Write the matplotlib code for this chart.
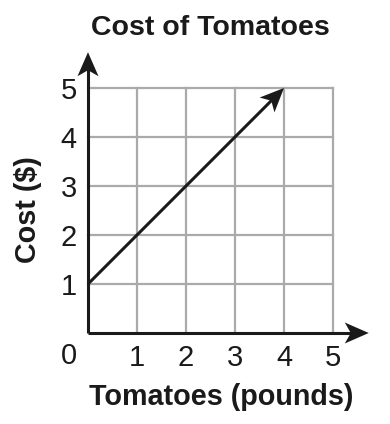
import matplotlib.pyplot as plt
from matplotlib.path import Path
from matplotlib.patches import PathPatch

plt.rcParams['font.family'] = ['Liberation Sans', 'DejaVu Sans']

title = "Cost of Tomatoes"
x_label = "Tomatoes (pounds)"
y_label = "Cost ($)"
x_ticks = [1, 2, 3, 4, 5]
y_ticks = [1, 2, 3, 4, 5]
line_x = [0, 4]
line_y = [1, 5]
axis_max = 5
arrow_reach = 5.73

fig = plt.figure(figsize=(3.9, 4.24), dpi=100)
ax = fig.add_axes([88 / 390, 91 / 424, 245 / 390, 245 / 424])
ax.set_xlim(0, axis_max)
ax.set_ylim(0, axis_max)

# grid
for v in x_ticks:
    ax.plot([v, v], [0, axis_max], color="#aaaaaa", lw=1.6, zorder=1, clip_on=False)
for v in y_ticks:
    ax.plot([0, axis_max], [v, v], color="#aaaaaa", lw=1.6, zorder=1, clip_on=False)

for s in ax.spines.values():
    s.set_visible(False)


def arrow(x0, y0, x1, y1):
    # shaft plus a stealth-shaped head, sized in pixels
    t = ax.transData
    (px0, py0), (px1, py1) = t.transform([(x0, y0), (x1, y1)])
    dx, dy = px1 - px0, py1 - py0
    n = (dx ** 2 + dy ** 2) ** 0.5
    ux, uy = dx / n, dy / n
    L, W, notch = 24, 10.5, 6
    mid = t.inverted().transform((px1 - ux * (L - notch - 1), py1 - uy * (L - notch - 1)))
    ax.plot([x0, mid[0]], [y0, mid[1]], color="#1a1a1a", lw=2.2, zorder=3,
            clip_on=False, solid_capstyle="butt")
    back = (px1 - ux * L, py1 - uy * L)
    pts = [(px1, py1),
           (back[0] - uy * W, back[1] + ux * W),
           (px1 - ux * (L - notch), py1 - uy * (L - notch)),
           (back[0] + uy * W, back[1] - ux * W),
           (px1, py1)]
    pts = t.inverted().transform(pts)
    codes = [Path.MOVETO, Path.LINETO, Path.LINETO, Path.LINETO, Path.CLOSEPOLY]
    ax.add_patch(PathPatch(Path(pts, codes), facecolor="#1a1a1a",
                           edgecolor="none", zorder=4, clip_on=False))


arrow(0, 0, 0, arrow_reach)
arrow(0, 0, arrow_reach, 0)
arrow(line_x[0], line_y[0], line_x[1], line_y[1])

ax.set_xticks(x_ticks)
ax.set_yticks(y_ticks)
ax.set_xticklabels([str(t) for t in x_ticks])
ax.set_yticklabels([str(t) for t in y_ticks])
ax.tick_params(length=0, labelsize=21, colors="#1a1a1a", pad=8)
ax.text(-0.38, -0.47, "0", fontsize=21, color="#1a1a1a", ha="center", va="center")

fig.text(210 / 390, 1 - 28 / 424, title, fontsize=20.5, fontweight="bold",
         ha="center", va="center", color="#1a1a1a")
fig.text(221 / 390, 1 - 397 / 424, x_label, fontsize=20.7, fontweight="bold",
         ha="center", va="center", color="#1a1a1a")
fig.text(28 / 390, 1 - 210 / 424, y_label, fontsize=20.7, fontweight="bold",
         ha="center", va="center", rotation=90, color="#1a1a1a")

fig.savefig("out.png", dpi=100)
